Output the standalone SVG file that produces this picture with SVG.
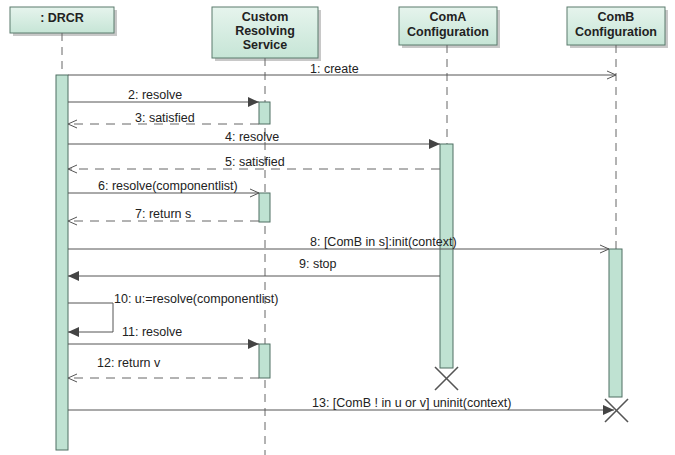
<svg xmlns="http://www.w3.org/2000/svg" width="675" height="455" viewBox="0 0 675 455">
<defs>
<linearGradient id="hg" x1="0" y1="0" x2="0" y2="1">
<stop offset="0" stop-color="#e6f4ed"/>
<stop offset="1" stop-color="#c6e5d6"/>
</linearGradient>
<marker id="open" viewBox="0 0 10 10" refX="10" refY="5" markerWidth="10" markerHeight="10" markerUnits="userSpaceOnUse" orient="auto">
<path d="M1,1 L10,5 L1,9" fill="none" stroke="#555" stroke-width="1"/>
</marker>
<marker id="fill" viewBox="0 0 10 10" refX="10" refY="5" markerWidth="11" markerHeight="11" markerUnits="userSpaceOnUse" orient="auto">
<path d="M0,0.5 L10,5 L0,9.5 Z" fill="#444"/>
</marker>
</defs>
<style>
.hdr{fill:url(#hg);stroke:#5a7a6c;stroke-width:1}
.shd{fill:#c8c8c8}
.ht{font-family:"Liberation Sans",Arial,sans-serif;font-size:12.5px;font-weight:bold;fill:#222;text-anchor:middle}
.life{stroke:#666;stroke-width:1;stroke-dasharray:8,6;fill:none}
.act{fill:#bfe2d2;stroke:#4f6f62;stroke-width:1}
.msg{stroke:#555;stroke-width:1;fill:none}
.ret{stroke:#666;stroke-width:1;fill:none;stroke-dasharray:9,7}
.lbl{font-family:"Liberation Sans",Arial,sans-serif;font-size:12.5px;fill:#222}
.x{stroke:#555;stroke-width:1.6}
</style>
<rect width="675" height="455" fill="#fff"/>
<g id="DRCR">
<rect class="shd" x="13" y="10" width="104" height="26"/>
<rect class="hdr" x="10" y="7" width="104" height="26"/>
<text class="ht" x="62" y="22">: DRCR</text>
<line class="life" x1="62" y1="33" x2="62" y2="75"/>
<rect class="act" x="56" y="75" width="12" height="375"/>
</g>
<g id="CRS">
<rect class="shd" x="215" y="10" width="106" height="51"/>
<rect class="hdr" x="212" y="7" width="106" height="51"/>
<text class="ht" x="265" y="21">Custom</text>
<text class="ht" x="265" y="35">Resolving</text>
<text class="ht" x="265" y="49">Service</text>
<line class="life" x1="265" y1="58" x2="265" y2="455"/>
<rect class="act" x="259" y="102" width="11" height="22"/>
<rect class="act" x="259" y="193" width="11" height="29"/>
<rect class="act" x="259" y="344" width="11" height="34"/>
</g>
<g id="ComA">
<rect class="shd" x="402" y="10" width="98" height="38"/>
<rect class="hdr" x="399" y="7" width="98" height="38"/>
<text class="ht" x="448" y="21">ComA</text>
<text class="ht" x="448" y="36">Configuration</text>
<line class="life" x1="447" y1="45" x2="447" y2="144"/>
<rect class="act" x="440" y="144" width="13" height="224"/>
<line class="x" x1="435" y1="367" x2="458" y2="390"/>
<line class="x" x1="458" y1="367" x2="435" y2="390"/>
</g>
<g id="ComB">
<rect class="shd" x="570" y="10" width="98" height="38"/>
<rect class="hdr" x="567" y="7" width="98" height="38"/>
<text class="ht" x="616" y="21">ComB</text>
<text class="ht" x="616" y="36">Configuration</text>
<line class="life" x1="616" y1="45" x2="616" y2="249"/>
<rect class="act" x="609" y="249" width="13" height="148"/>
<line class="x" x1="605" y1="399" x2="628" y2="422"/>
<line class="x" x1="628" y1="399" x2="605" y2="422"/>
</g>
<g id="connectors">
<line class="msg" x1="68" y1="75" x2="616" y2="75" marker-end="url(#open)"/>
<text class="lbl" x="310" y="73">1: create</text>
<line class="msg" x1="68" y1="102" x2="259" y2="102" marker-end="url(#fill)"/>
<text class="lbl" x="128" y="99">2: resolve</text>
<line class="ret" x1="259" y1="124" x2="68" y2="124" marker-end="url(#open)"/>
<text class="lbl" x="135" y="122">3: satisfied</text>
<line class="msg" x1="68" y1="144" x2="440" y2="144" marker-end="url(#fill)"/>
<text class="lbl" x="225" y="141">4: resolve</text>
<line class="ret" x1="440" y1="169" x2="68" y2="169" marker-end="url(#open)"/>
<text class="lbl" x="225" y="166">5: satisfied</text>
<line class="msg" x1="68" y1="193" x2="259" y2="193" marker-end="url(#open)"/>
<text class="lbl" x="98" y="190">6: resolve(componentlist)</text>
<line class="ret" x1="259" y1="221" x2="68" y2="221" marker-end="url(#open)"/>
<text class="lbl" x="135" y="218">7: return s</text>
<line class="msg" x1="68" y1="249" x2="609" y2="249" marker-end="url(#open)"/>
<text class="lbl" x="310" y="246">8: [ComB in s]:init(context)</text>
<line class="msg" x1="440" y1="276" x2="68" y2="276" marker-end="url(#fill)"/>
<text class="lbl" x="299" y="268">9: stop</text>
<polyline class="msg" points="68,303 113,303 113,332 68,332" marker-end="url(#fill)"/>
<text class="lbl" x="114" y="303">10: u:=resolve(componentlist)</text>
<line class="msg" x1="68" y1="344" x2="259" y2="344" marker-end="url(#fill)"/>
<text class="lbl" x="122" y="336">11: resolve</text>
<line class="ret" x1="259" y1="378" x2="68" y2="378" marker-end="url(#open)"/>
<text class="lbl" x="97" y="367">12: return v</text>
<line class="msg" x1="68" y1="410" x2="614" y2="410" marker-end="url(#fill)"/>
<text class="lbl" x="312" y="407">13: [ComB ! in u or v] uninit(context)</text>
</g>
</svg>
